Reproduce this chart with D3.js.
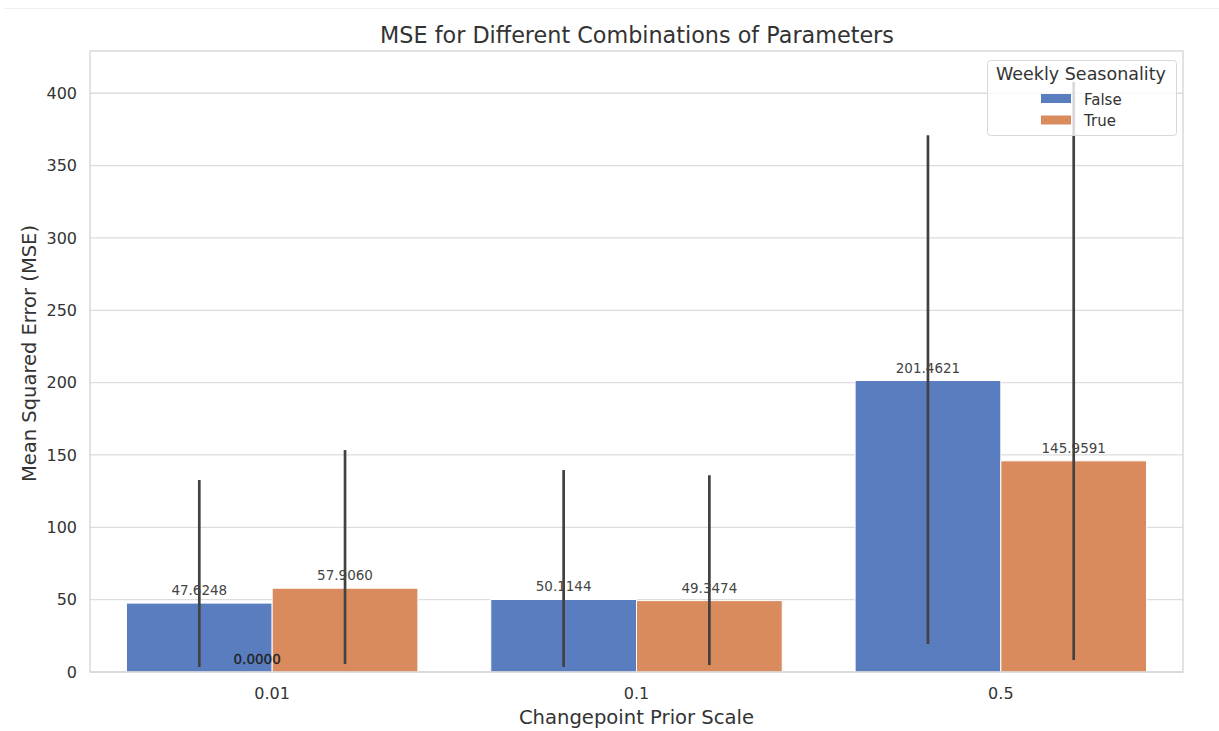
<!DOCTYPE html>
<html><head><meta charset="utf-8">
<script src="https://cdn.jsdelivr.net/npm/d3@7"></script>
<style>body{margin:0;background:#fff}svg{display:block}text{font-family:"DejaVu Sans",sans-serif}</style>
</head><body><svg id="c" width="1219" height="731"></svg>
<script>
const categories = ["0.01", "0.1", "0.5"];
const seriesNames = ["False", "True"];
const mseFalse = [47.6248, 50.1144, 201.4621];
const mseTrue = [57.9060, 49.3474, 145.9591];
const ciLowFalse = [3.5, 3.5, 19.4];
const ciHighFalse = [132.7, 139.6, 371.0];
const ciLowTrue = [5.5, 4.8, 8.3];
const ciHighTrue = [153.4, 136.0, 407.7];
const yTicks = [0, 50, 100, 150, 200, 250, 300, 350, 400];
const extraLabels = [{cat: "0.01", value: 0, text: "0.0000"}];
const colors = ["#597dbf", "#d98b5e"];

const svg = d3.select("#c");
const m = {l: 90, r: 1183, t: 51, b: 672};
const x = d3.scaleBand().domain(categories).range([m.l, m.r]).paddingInner(0).paddingOuter(0);
const xs = d3.scaleBand().domain(seriesNames).range([0, x.bandwidth() * 0.8]);
const off = x.bandwidth() * 0.1;
const y = d3.scaleLinear().domain([0, 429.2]).range([m.b, m.t]);

svg.append("line").attr("x1", 5).attr("x2", 1219).attr("y1", 8.5).attr("y2", 8.5).attr("stroke", "#eeeeee");

svg.append("g").selectAll("line").data(yTicks).join("line")
  .attr("x1", m.l).attr("x2", m.r).attr("y1", d => y(d)).attr("y2", d => y(d))
  .attr("stroke", "#dddddd").attr("stroke-width", 1.3);

const yAxis = d3.axisLeft(y).tickValues(yTicks).tickSize(0).tickPadding(13);
const ga = svg.append("g").attr("transform", `translate(${m.l},0)`).call(yAxis);
ga.select(".domain").remove();
ga.selectAll("text").attr("font-size", 16).attr("fill", "#333").attr("font-family", "DejaVu Sans");

const xAxis = d3.axisBottom(x).tickSize(0).tickPadding(16);
const gx = svg.append("g").attr("transform", `translate(0,${m.b})`).call(xAxis);
gx.select(".domain").remove();
gx.selectAll("text").attr("font-size", 16).attr("fill", "#333").attr("font-family", "DejaVu Sans");

const rows = [];
categories.forEach((c, i) => {
  rows.push({c, s: "False", v: mseFalse[i], lo: ciLowFalse[i], hi: ciHighFalse[i], col: colors[0]});
  rows.push({c, s: "True", v: mseTrue[i], lo: ciLowTrue[i], hi: ciHighTrue[i], col: colors[1]});
});

svg.append("g").selectAll("rect").data(rows).join("rect")
  .attr("x", d => x(d.c) + off + xs(d.s)).attr("width", xs.bandwidth())
  .attr("y", d => y(d.v)).attr("height", d => y(0) - y(d.v))
  .attr("fill", d => d.col).attr("stroke", "#fff").attr("stroke-width", 1);

svg.append("g").selectAll("text").data(rows).join("text")
  .attr("x", d => x(d.c) + off + xs(d.s) + xs.bandwidth() / 2)
  .attr("y", d => y(d.v) - 8)
  .attr("text-anchor", "middle").attr("font-size", 13.5).attr("fill", "#444")
  .text(d => d.v.toFixed(4));

svg.append("g").selectAll("text").data(extraLabels).join("text")
  .attr("x", d => x(d.cat) + x.bandwidth() / 2 - 15)
  .attr("y", d => y(d.value) - 8)
  .attr("text-anchor", "middle").attr("font-size", 13.5).attr("fill", "#222")
  .attr("stroke", "#222").attr("stroke-width", 0.3)
  .text(d => d.text);

svg.append("g").selectAll("line").data(rows).join("line")
  .attr("x1", d => x(d.c) + off + xs(d.s) + xs.bandwidth() / 2)
  .attr("x2", d => x(d.c) + off + xs(d.s) + xs.bandwidth() / 2)
  .attr("y1", d => y(d.lo)).attr("y2", d => y(d.hi))
  .attr("stroke", "#424242").attr("stroke-width", 2.7);

svg.append("rect").attr("x", m.l).attr("y", m.t).attr("width", m.r - m.l).attr("height", m.b - m.t)
  .attr("fill", "none").attr("stroke", "#d4d4d4").attr("stroke-width", 1.3);

svg.append("text").attr("x", (m.l + m.r) / 2 + 0.5).attr("y", 43).attr("text-anchor", "middle")
  .attr("font-size", 22.3).attr("fill", "#333").text("MSE for Different Combinations of Parameters");
svg.append("text").attr("x", (m.l + m.r) / 2) .attr("y", 724).attr("text-anchor", "middle")
  .attr("font-size", 19.6).attr("fill", "#333").text("Changepoint Prior Scale");
svg.append("text").attr("transform", `translate(36,${(m.t + m.b) / 2 - 8}) rotate(-90)`).attr("text-anchor", "middle")
  .attr("font-size", 19.5).attr("fill", "#333").text("Mean Squared Error (MSE)");

const lg = svg.append("g");
lg.append("rect").attr("x", 987.5).attr("y", 60.5).attr("width", 189).attr("height", 75).attr("rx", 3)
  .attr("fill", "#fff").attr("fill-opacity", 0.8).attr("stroke", "#d8d8d8");
lg.append("text").attr("x", 1081).attr("y", 80).attr("text-anchor", "middle").attr("font-size", 17.5).attr("fill", "#333").text("Weekly Seasonality");
seriesNames.forEach((s, i) => {
  lg.append("rect").attr("x", 1041).attr("y", 94 + i * 21.5).attr("width", 30).attr("height", 9).attr("fill", colors[i]);
  lg.append("text").attr("x", 1084).attr("y", 104.5 + i * 21.5).attr("font-size", 15).attr("fill", "#333").text(s);
});
</script></body></html>
